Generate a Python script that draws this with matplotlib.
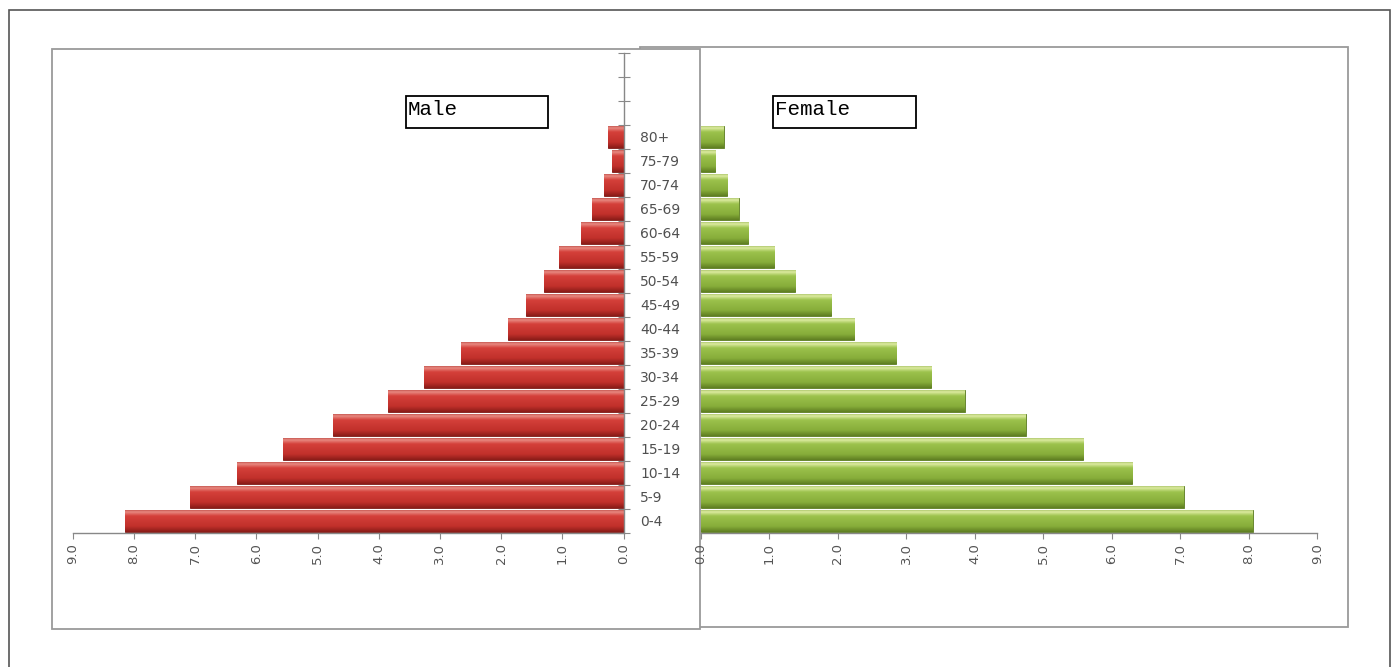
import numpy as np
import matplotlib.pyplot as plt
from matplotlib.patches import Rectangle
from matplotlib.colors import to_rgb

# age groups, bottom to top
ages = ['0-4', '5-9', '10-14', '15-19', '20-24', '25-29', '30-34', '35-39',
        '40-44', '45-49', '50-54', '55-59', '60-64', '65-69', '70-74', '75-79', '80+']
male = [8.15, 7.08, 6.32, 5.56, 4.75, 3.85, 3.26, 2.65,
        1.88, 1.59, 1.30, 1.06, 0.70, 0.51, 0.32, 0.19, 0.26]
female = [8.06, 7.05, 6.30, 5.58, 4.74, 3.85, 3.36, 2.85,
          2.24, 1.90, 1.38, 1.07, 0.69, 0.55, 0.38, 0.21, 0.33]
xticks = [0, 1, 2, 3, 4, 5, 6, 7, 8, 9]
n_slots = 20  # three empty slots above 80+

W, H = 1396, 667


def fx(x):
    return x / W


def fy(y):
    return 1 - y / H


def frame(fig, x0, y0, x1, y1, **kw):
    r = Rectangle((fx(x0), fy(y1)), (x1 - x0) / W, (y1 - y0) / H,
                  transform=fig.transFigure, **kw)
    fig.patches.append(r)
    return r


def shade_bars(ax, bars, stops):
    # vertical gradient clipped to each bar, gives the 3D cylinder look
    pos = [s[0] for s in stops]
    cols = np.array([to_rgb(s[1]) for s in stops])
    t = np.linspace(0, 1, 64)
    grad = np.stack([np.interp(t, pos, cols[:, k]) for k in range(3)], axis=1)
    grad = grad[:, None, :]
    for b in bars:
        x0, y0 = b.get_x(), b.get_y()
        w, h = b.get_width(), b.get_height()
        im = ax.imshow(grad, extent=(x0, x0 + w, y0, y0 + h), origin='upper',
                       aspect='auto', interpolation='bilinear', zorder=2)
        im.set_clip_path(b)


fig = plt.figure(figsize=(W / 100, H / 100), dpi=100)

# frames
frame(fig, 9, 10, 1390, 690, fill=False, edgecolor='#555555', lw=1.2, zorder=-3)
frame(fig, 640, 47, 1348, 627, facecolor='white', edgecolor='#9a9a9a', lw=1.3, zorder=-2)
frame(fig, 52, 49, 700, 629, facecolor='white', edgecolor='#9a9a9a', lw=1.3, zorder=-1)

axL = fig.add_axes([fx(72.7), fy(533), (623.5 - 72.7) / W, 480 / H])
axR = fig.add_axes([fx(701), fy(533), (1317.3 - 701) / W, 480 / H])

y = np.arange(len(ages))
red_stops = [(0.0, '#b8423c'), (0.12, '#e88a82'), (0.3, '#d4403a'),
             (0.75, '#c1302b'), (1.0, '#8a1c18')]
green_stops = [(0.0, '#9cb95a'), (0.12, '#dcebA0'), (0.3, '#9cc24c'),
               (0.75, '#87ad3a'), (1.0, '#5f7f22')]

barsL = axL.barh(y, male, height=0.92, color='#c1302b', edgecolor='#7a1a16',
                 linewidth=0.6, zorder=1)
shade_bars(axL, barsL, red_stops)
barsR = axR.barh(y, female, height=0.92, color='#8bb23e', edgecolor='#5a7a20',
                 linewidth=0.6, zorder=1)
shade_bars(axR, barsR, green_stops)

for ax in (axL, axR):
    ax.set_facecolor('none')
    ax.set_ylim(-0.5, n_slots - 0.5)
    ax.set_xlim(0, 9)
    ax.set_xticks(xticks)
    ax.set_xticklabels(['%.1f' % v for v in xticks], rotation=90,
                       fontsize=9.5, color='#555555')
    ax.tick_params(axis='x', direction='out', length=4, width=0.8,
                   color='#888888', pad=3)
    for s in ('top', 'left', 'right'):
        ax.spines[s].set_visible(False)
    ax.spines['bottom'].set_color('#888888')
    ax.spines['bottom'].set_linewidth(1.0)

axL.invert_xaxis()

# male axis carries the age labels on its right side
axL.spines['right'].set_visible(True)
axL.spines['right'].set_color('#888888')
axL.spines['right'].set_linewidth(1.0)
axL.yaxis.tick_right()
axL.set_yticks(y)
axL.set_yticklabels(ages, fontsize=10, color='#505050')
axL.tick_params(axis='y', which='major', length=0, pad=12)
axL.set_yticks(np.arange(n_slots + 1) - 0.5, minor=True)
axL.tick_params(axis='y', which='minor', direction='inout', length=9,
                width=0.8, color='#888888', right=True, left=False)

axR.set_yticks([])

# title boxes
frame(fig, 405.7, 96, 547.9, 127.5, fill=False, edgecolor='black', lw=1.3, zorder=3)
frame(fig, 772.9, 96, 915.7, 127.5, fill=False, edgecolor='black', lw=1.3, zorder=3)
fig.text(fx(408), fy(115), 'Male', fontsize=15, family='Liberation Mono',
         va='baseline', ha='left')
fig.text(fx(775), fy(115), 'Female', fontsize=15, family='Liberation Mono',
         va='baseline', ha='left')

fig.savefig('out.png', dpi=100)
